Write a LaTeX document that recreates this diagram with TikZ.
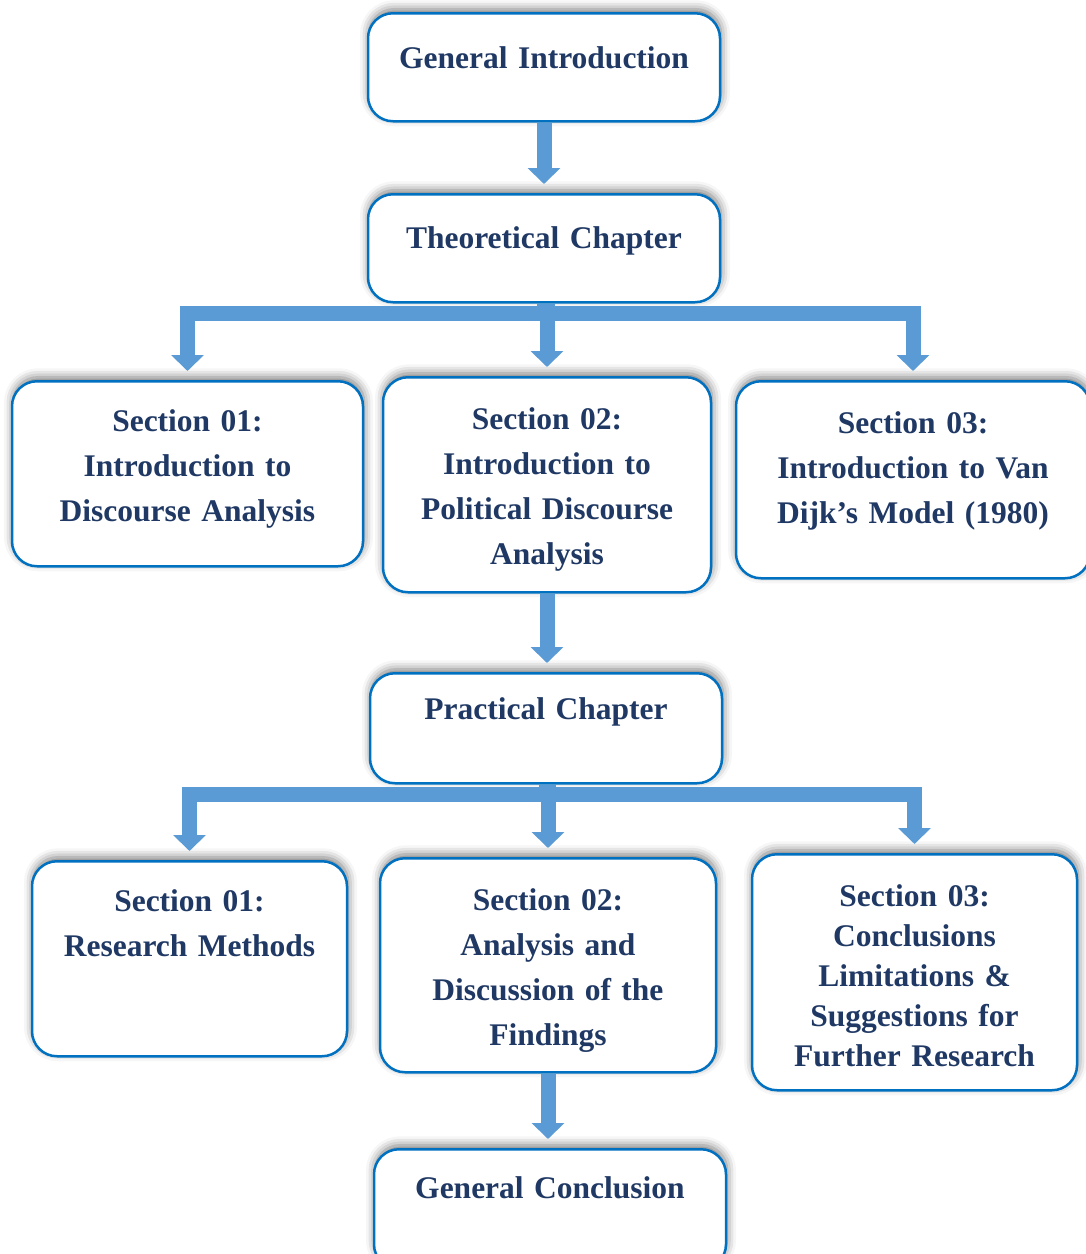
\documentclass[tikz,border=0pt]{standalone}
\usepackage{fontspec}
\setmainfont{Liberation Serif}
\usetikzlibrary{arrows.meta,shadows.blur}
\definecolor{boxblue}{HTML}{0070C0}
\definecolor{flowblue}{HTML}{5B9BD5}
\definecolor{navy}{HTML}{1F3864}
\begin{document}
\begin{tikzpicture}[x=1pt, y=-1pt,
  box/.style={draw=boxblue, line width=2.5pt, rounded corners=25pt, fill=white,
    inner sep=0pt, anchor=north, align=center, text=navy,
    font=\fontsize{31.5}{45}\selectfont\bfseries,
    blur shadow={shadow xshift=1pt, shadow yshift=4pt, shadow blur radius=9pt, shadow opacity=55}},
  flow/.style={draw=flowblue, line width=15pt, line join=miter,
    -{Triangle[width=32pt,length=16pt]}, shorten >=9pt}]
\useasboundingbox (0,0) rectangle (1086,1254);
\node[box, text width=352pt, text height=55pt, text depth=53pt] (GI) at (544,12) {General Introduction};
\node[box, text width=352pt, text height=54pt, text depth=54pt] (TC) at (544,193) {Theoretical Chapter};
\node[box, text width=351pt, text height=50pt, text depth=135pt] (TC1) at (187.5,380) {Section 01:\\Introduction to\\Discourse Analysis};
\node[box, text width=328pt, text height=52pt, text depth=163pt] (TC2) at (547,376) {Section 02:\\Introduction to\\Political Discourse\\Analysis};
\node[box, text width=354pt, text height=52pt, text depth=145pt] (TC3) at (913,380) {Section 03:\\Introduction to Van\\Dijk’s Model (1980)};
\node[box, text width=352pt, text height=46pt, text depth=64pt] (PC) at (546,672) {Practical Chapter};
\node[box, text width=315pt, text height=50pt, text depth=145pt] (PC1) at (189.5,860) {Section 01:\\Research Methods};
\node[box, text width=336pt, text height=52pt, text depth=162pt] (PC2) at (548,857) {Section 02:\\Analysis and\\Discussion of the\\Findings};
\node[box, text width=325pt, text height=52pt, text depth=184pt, font=\fontsize{31.5}{40}\selectfont\bfseries] (PC3) at (914.5,853) {Section 03:\\Conclusions\\Limitations \&\\Suggestions for\\Further Research};
\node[box, text width=352pt, text height=49pt, text depth=71pt] (GC) at (550,1148) {General Conclusion};
\draw[flow] (GI.south) -- (TC.north);
\draw[flow] (TC.south) -- ++(0,10) -| (TC1.north);
\draw[flow] (TC.south) -- ++(0,10) -| (TC3.north);
\draw[flow] (TC2.north |- TC.south) -- (TC2.north);
\draw[flow] (TC2.south) -- (TC2.south |- PC.north);
\draw[flow] (PC.south) -- ++(0,10) -| (PC1.north);
\draw[flow] (PC.south) -- ++(0,10) -| (PC3.north);
\draw[flow] (PC2.north |- PC.south) -- (PC2.north);
\draw[flow] (PC2.south) -- (PC2.south |- GC.north);
\end{tikzpicture}
\end{document}
